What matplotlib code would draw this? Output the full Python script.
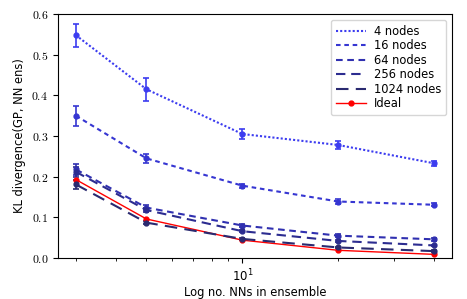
import numpy as np
import matplotlib
matplotlib.use("Agg")
import matplotlib.pyplot as plt
from matplotlib.ticker import FuncFormatter
from matplotlib.lines import Line2D

plt.rcParams['mathtext.fontset'] = 'cm'

# ensemble sizes
n_nets = [3, 5, 10, 20, 40]

kl_4 = [0.548, 0.415, 0.305, 0.278, 0.233]
err_4 = [0.028, 0.028, 0.012, 0.011, 0.006]
kl_16 = [0.350, 0.245, 0.178, 0.139, 0.131]
err_16 = [0.025, 0.012, 0.005, 0.005, 0.004]
kl_64 = [0.218, 0.124, 0.080, 0.055, 0.046]
err_64 = [0.013, 0.006, 0.004, 0.003, 0.003]
kl_256 = [0.212, 0.118, 0.066, 0.042, 0.031]
err_256 = [0.012, 0.005, 0.003, 0.002, 0.002]
kl_1024 = [0.181, 0.087, 0.047, 0.026, 0.017]
err_1024 = [0.010, 0.004, 0.002, 0.002, 0.002]
kl_ideal = [0.193, 0.096, 0.044, 0.019, 0.009]

labels = ['4 nodes', '16 nodes', '64 nodes', '256 nodes', '1024 nodes']
colors = ['#3c3cf0', '#3636d2', '#3030b0', '#2c2c90', '#2a2a70']
dashes = [(1, 1), (2.2, 1.8), (3.2, 2.2), (4.5, 2.8), (6, 3.5)]

fig = plt.figure(figsize=(4.67, 2.99), dpi=100)
ax = fig.add_axes([0.124, 0.137, 0.844, 0.816])

series = [(kl_4, err_4), (kl_16, err_16), (kl_64, err_64), (kl_256, err_256), (kl_1024, err_1024)]
handles = []
for (vals, errs), lab, c, d in zip(series, labels, colors, dashes):
    ax.errorbar(n_nets, vals, yerr=errs, color=c, lw=1.5, dashes=d, marker='o', ms=3.5,
                capsize=2.5, elinewidth=1.2, capthick=1.2)
    handles.append(Line2D([], [], color=c, lw=1.5, dashes=d, label=lab))

ideal, = ax.plot(n_nets, kl_ideal, color='red', lw=1, marker='o', ms=3.5, label='Ideal')
handles.append(ideal)

ax.set_xscale('log')
ax.set_ylim(0, 0.6)
ax.yaxis.set_major_formatter(FuncFormatter(lambda v, p: r'$%.1f$' % v))
ax.tick_params(labelsize=8.5)
ax.set_xlabel('Log no. NNs in ensemble', fontsize=8.3, labelpad=1)
ax.set_ylabel('KL divergence(GP, NN ens)', fontsize=8.3)

ax.legend(handles=handles, loc='upper right', fontsize=8.3, handlelength=2.6,
          labelspacing=0.12, borderpad=0.45, handletextpad=0.7)

fig.savefig('out.png', dpi=100)
